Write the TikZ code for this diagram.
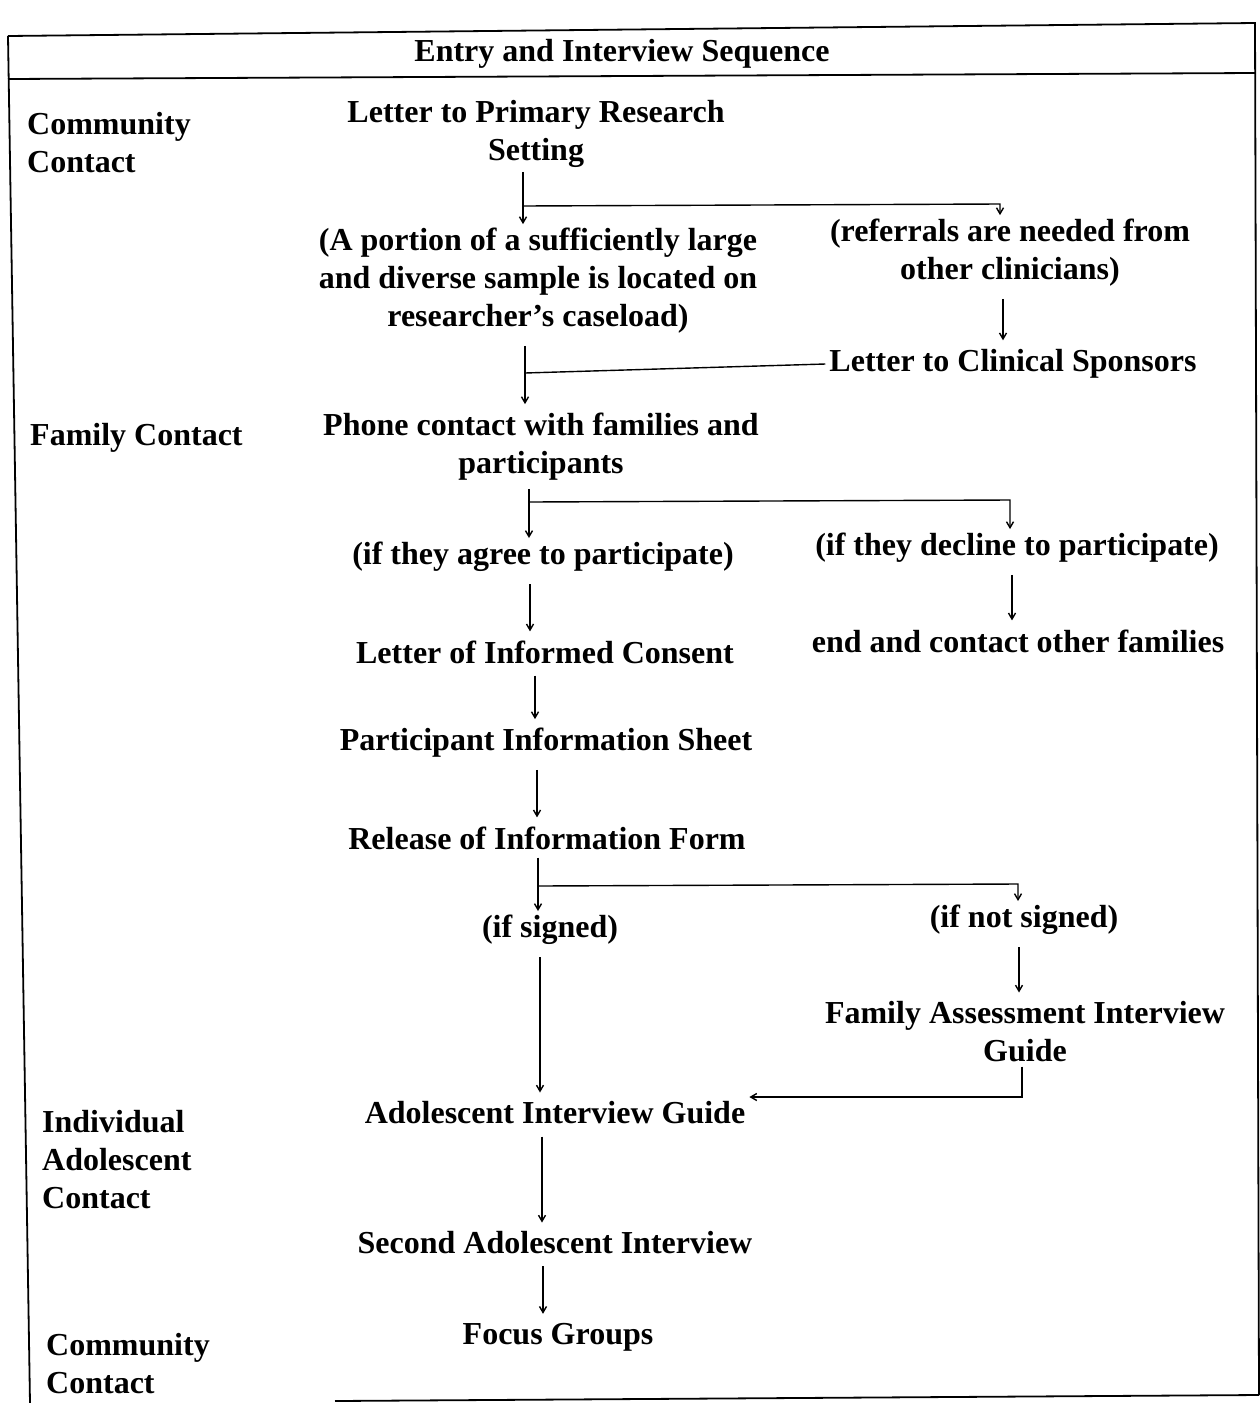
\documentclass[tikz,border=0pt]{standalone}
\usepackage{fontspec}
\setmainfont{Liberation Serif}
\usetikzlibrary{arrows.meta}
\newcommand\myfs{\fontsize{32}{38}\selectfont\bfseries}
\begin{document}
\begin{tikzpicture}[x=1pt,y=-1pt,
  lbl/.style={font=\myfs, align=center, inner sep=4pt},
  side/.style={font=\myfs, align=left, inner sep=0pt, anchor=west},
  arr/.style={line width=1.4pt, -{Straight Barb[length=6pt,width=7pt]}},
  varr/.style={arr, shorten <=8pt, shorten >=5pt},
  ln/.style={line width=1.4pt},
  frame/.style={line width=1.8pt}]
\useasboundingbox (0,0) rectangle (1259,1403);
% frame
\coordinate (tl) at (8,36);
\coordinate (tr) at (1255,23);
\coordinate (hl) at (8,79);
\coordinate (hr) at (1255,73);
\coordinate (bl) at (30,1403);
\coordinate (br) at (1259,1395);
\coordinate (bs) at (335,1401);
\draw[frame] (tl) -- (tr) -- (br);
\draw[frame] (tl) -- (bl);
\draw[frame] (hl) -- (hr);
\draw[frame] (bs) -- (br);
% title
\node[lbl] (t) at (622,54) {Entry and Interview Sequence};
% side labels
\node[side] (l1) at (27,143) {Community\\Contact};
\node[side] (l2) at (30,438) {Family Contact};
\node[side] (l3) at (42,1160) {Individual\\Adolescent\\Contact};
\node[side] (l4) at (46,1364) {Community\\Contact};
% flow nodes
\node[lbl] (n1) at (536,134) {Letter to Primary Research\\Setting};
\node[lbl] (n2) at (538,281) {(A portion of a sufficiently large\\and diverse sample is located on\\researcher's caseload)};
\node[lbl] (n3) at (1010,253) {(referrals are needed from\\other clinicians)};
\node[lbl] (n4) at (1013,364) {Letter to Clinical Sponsors};
\node[lbl] (n5) at (541,447) {Phone contact with families and\\participants};
\node[lbl] (n6) at (543,557) {(if they agree to participate)};
\node[lbl] (n7) at (1017,548) {(if they decline to participate)};
\node[lbl] (n8) at (545,652) {Letter of Informed Consent};
\node[lbl] (n9) at (1018,641) {end and contact other families};
\node[lbl] (n10) at (546,743) {Participant Information Sheet};
\node[lbl] (n11) at (547,838) {Release of Information Form};
\node[lbl] (n12) at (550,930) {(if signed)};
\node[lbl] (n13) at (1024,920) {(if not signed)};
\node[lbl] (n14) at (1025,1032) {Family Assessment Interview\\Guide};
\node[lbl] (n15) at (555,1113) {Adolescent Interview Guide};
\node[lbl] (n16) at (555,1243) {Second Adolescent Interview};
\node[lbl] (n17) at (558,1337) {Focus Groups};
% branch coordinates
\coordinate (x1) at (523,206);
\coordinate (x1r) at (1000,204);
\coordinate (x2) at (525,373);
\coordinate (x3) at (529,502);
\coordinate (x3r) at (1010,500);
\coordinate (x4) at (538,886);
\coordinate (x4r) at (1018,884);
\coordinate (x5) at (1022,1097);
% connectors
\draw[arr] (n1.south -| x1) -- (n2.north -| x1);
\draw[arr] (x1) -- (x1r) -- (n3.north -| x1r);
\draw[varr] (n3.south -| 1003,0) -- (n4.north -| 1003,0);
\draw[varr] (n2.south -| x2) -- (n5.north -| x2);
\draw[ln] (x2) -- (n4.west);
\draw[arr, shorten <=4pt] (n5.south -| x3) -- (n6.north -| x3);
\draw[arr] (x3) -- (x3r) -- (n7.north -| x3r);
\draw[varr] (n6.south -| 530,0) -- (n8.north -| 530,0);
\draw[varr] (n7.south -| 1012,0) -- (n9.north -| 1012,0);
\draw[varr] (n8.south -| 535,0) -- (n10.north -| 535,0);
\draw[varr] (n10.south -| 537,0) -- (n11.north -| 537,0);
\draw[arr, shorten <=4pt] (n11.south -| x4) -- (n12.north -| x4);
\draw[arr] (x4) -- (x4r) -- (n13.north -| x4r);
\draw[varr] (n12.south -| 540,0) -- (n15.north -| 540,0);
\draw[varr] (n13.south -| 1019,0) -- (n14.north -| 1019,0);
\draw[arr] (n14.south -| x5) -- (x5) -- (n15.east |- x5);
\draw[varr] (n15.south -| 542,0) -- (n16.north -| 542,0);
\draw[varr] (n16.south -| 543,0) -- (n17.north -| 543,0);
\end{tikzpicture}
\end{document}
